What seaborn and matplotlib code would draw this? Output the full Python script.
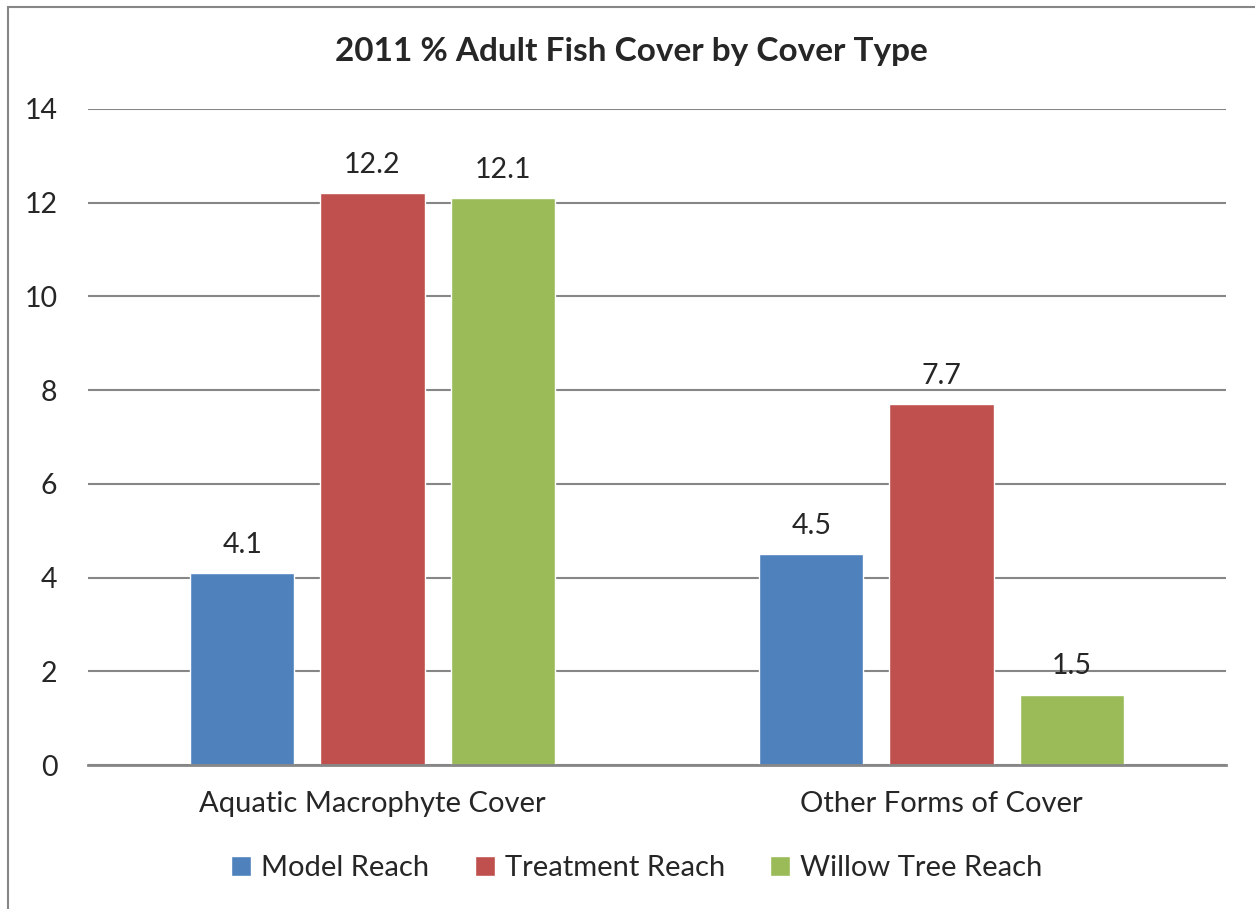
import pandas as pd
import matplotlib.pyplot as plt
import seaborn as sns
from matplotlib.patches import Rectangle

# data
cover_types = ['Aquatic Macrophyte Cover', 'Other Forms of Cover']
reaches = ['Model Reach', 'Treatment Reach', 'Willow Tree Reach']
model_reach = [4.1, 4.5]
treatment_reach = [12.2, 7.7]
willow_reach = [12.1, 1.5]
y_ticks = [0, 2, 4, 6, 8, 10, 12, 14]
titulo = '2011 % Adult Fish Cover by Cover Type'

colores = ['#4F81BD', '#C0504D', '#9BBB59']

rows = []
for reach, vals in zip(reaches, [model_reach, treatment_reach, willow_reach]):
    for cov, v in zip(cover_types, vals):
        rows.append({'cover': cov, 'reach': reach, 'valor': v})
df = pd.DataFrame(rows)

sns.set_style('white')
plt.rcParams['font.family'] = ['Lato', 'DejaVu Sans']

fig = plt.figure(figsize=(12.55, 9.09), dpi=100)
ax = fig.add_axes([0.0701, 0.1584, 0.9068, 0.7217])

sns.barplot(data=df, x='cover', y='valor', hue='reach', order=cover_types,
            hue_order=reaches, palette=colores, width=0.686, gap=0.2,
            saturation=1, ax=ax, legend=True)

for cont in ax.containers:
    ax.bar_label(cont, fmt='%.1f', padding=11, fontsize=20.5)

ax.set_ylim(0, 14)
ax.set_yticks(y_ticks)
ax.set_xlim(-0.5, 1.5)
ax.yaxis.grid(True, color='#868686', linewidth=1.5)
ax.set_axisbelow(True)
for s in ['left', 'right', 'top']:
    ax.spines[s].set_visible(False)
ax.spines['bottom'].set_color('#868686')
ax.spines['bottom'].set_linewidth(2)
ax.tick_params(axis='y', labelsize=20.5, pad=22, length=0)
ax.tick_params(axis='x', labelsize=21, pad=19, length=0)
ax.set_xlabel('')
ax.set_ylabel('')

ax.legend(loc='center', bbox_to_anchor=(0.4824, -0.157), ncol=3, frameon=False,
          fontsize=21, handlelength=0.68, handleheight=0.68, handletextpad=0.35,
          columnspacing=1.55)

fig.text(0.503, 0.943, titulo, ha='center', va='center', fontsize=24,
         fontweight='bold')

# chart frame
fig.patches.append(Rectangle((8 / 1255, -0.1), 2, 1.1 - 7 / 909,
                             transform=fig.transFigure, fill=False,
                             edgecolor='#868686', linewidth=1.5))

plt.savefig('out.png', dpi=100)
